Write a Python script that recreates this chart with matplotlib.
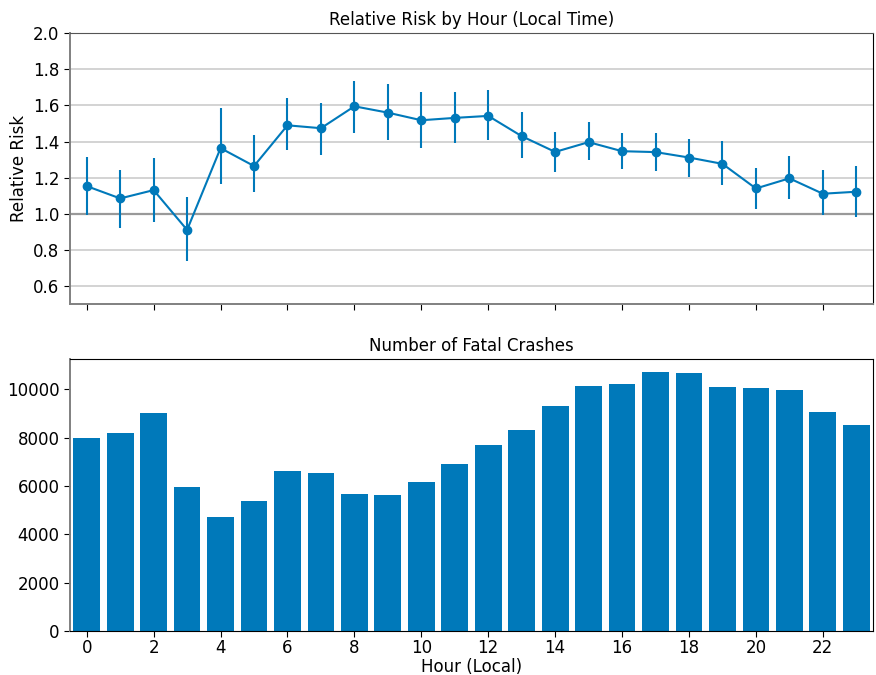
import numpy as np
import matplotlib.pyplot as plt

hours = np.arange(24)

# relative risk by hour with lower / upper interval bounds
rr = [1.154, 1.086, 1.132, 0.912, 1.364, 1.265, 1.490, 1.474,
      1.595, 1.560, 1.518, 1.531, 1.542, 1.430, 1.343, 1.397,
      1.347, 1.342, 1.312, 1.277, 1.141, 1.197, 1.112, 1.123]
rr_lo = [0.993, 0.921, 0.956, 0.739, 1.165, 1.119, 1.356, 1.327,
         1.450, 1.410, 1.365, 1.395, 1.408, 1.310, 1.233, 1.296,
         1.248, 1.237, 1.202, 1.160, 1.029, 1.081, 0.993, 0.985]
rr_hi = [1.316, 1.242, 1.312, 1.094, 1.588, 1.434, 1.643, 1.615,
         1.737, 1.716, 1.676, 1.672, 1.687, 1.564, 1.452, 1.507,
         1.450, 1.450, 1.415, 1.402, 1.255, 1.318, 1.241, 1.266]

# fatal crash counts by hour
crashes = [8000, 8200, 9030, 5960, 4720, 5380, 6620, 6540,
           5670, 5630, 6170, 6910, 7700, 8320, 9315, 10140,
           10220, 10720, 10680, 10100, 10060, 9980, 9070, 8530]

blue = "#0079ba"

plt.rcParams["font.size"] = 12

fig = plt.figure(figsize=(8.76, 6.75), dpi=100)
ax1 = fig.add_axes([0.0799, 0.5489, 0.9167, 0.4022])
ax2 = fig.add_axes([0.0799, 0.0652, 0.9167, 0.4029], sharex=ax1)

rr = np.array(rr)
yerr = [rr - np.array(rr_lo), np.array(rr_hi) - rr]
ax1.axhline(1.0, color="#999999", lw=1.6, zorder=1)
ax1.errorbar(hours, rr, yerr=yerr, color=blue, marker="o", ms=6,
             lw=1.5, elinewidth=1.5, capsize=0, zorder=3)
ax1.set_ylim(0.5, 2.0)
ax1.set_yticks(np.arange(0.6, 2.01, 0.2))
ax1.yaxis.grid(True, color="#cccccc", lw=1.2)
ax1.set_axisbelow(True)
ax1.set_ylabel("Relative Risk")
ax1.set_title("Relative Risk by Hour (Local Time)", fontsize=12)
ax1.tick_params(labelbottom=False)
for side in ("left", "bottom"):
    ax1.spines[side].set_color("#808080")
    ax1.spines[side].set_linewidth(1.4)
ax1.spines["top"].set_color("#555555")

ax2.bar(hours, crashes, width=0.8, color=blue)
ax2.set_xlim(-0.5, 23.5)
ax2.set_xticks(np.arange(0, 24, 2))
ax2.set_xlabel("Hour (Local)", labelpad=1)
ax2.set_title("Number of Fatal Crashes", fontsize=12)
ax2.spines["left"].set_color("#808080")
ax2.spines["left"].set_linewidth(1.4)

for ax in (ax1, ax2):
    ax.tick_params(direction="out", length=4)
ax2.tick_params(axis="x", pad=1.5)

fig.savefig("out.png", dpi=100)
